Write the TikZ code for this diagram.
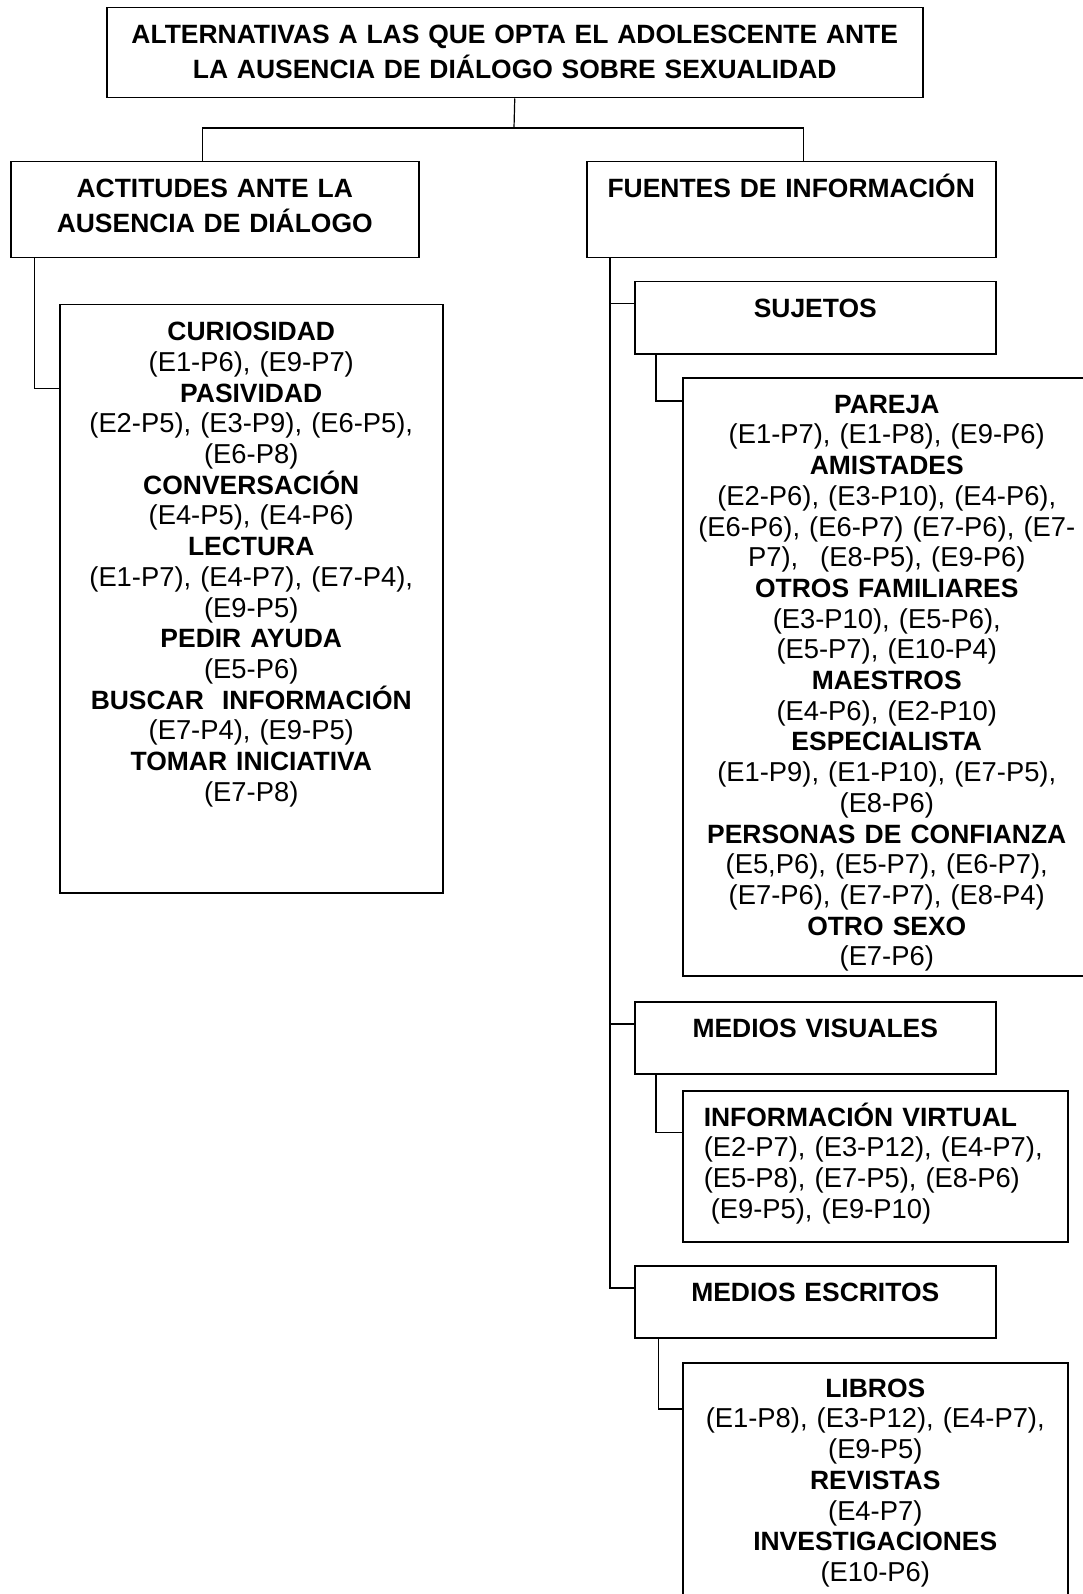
\documentclass[tikz,border=0pt]{standalone}
\usepackage{fontspec}
\setmainfont{Liberation Sans}
\newcommand{\etiq}[1]{{\fontsize{26.45}{30.7}\selectfont\bfseries #1}}
\tikzset{
  caja/.style={draw, line width=1.5pt, inner sep=0pt, anchor=north west,
    align=center, text height=35.5pt, font=\fontsize{27.35}{30.7}\selectfont},
  encabezado/.style={caja, font=\fontsize{26.45}{35.5}\selectfont\bfseries},
  conector/.style={line width=1.2pt},
}
\begin{document}
\begin{tikzpicture}[x=1pt,y=-1pt]
  \clip (0,0) rectangle (1083,1594);
  % primer nivel
  \node[encabezado, text width=816pt, text height=36pt, text depth=54pt,
    font=\fontsize{26.45}{34.5}\selectfont\bfseries] (titulo) at (106,7)
    {ALTERNATIVAS A LAS QUE OPTA EL ADOLESCENTE ANTE\\
     LA AUSENCIA DE DIÁLOGO SOBRE SEXUALIDAD};
  \node[encabezado, text width=408pt, text depth=60.5pt] (actitudes) at (10,161)
    {ACTITUDES ANTE LA\\AUSENCIA DE DIÁLOGO};
  \node[encabezado, text width=409pt, text depth=60.5pt] (fuentes) at (586,161)
    {FUENTES DE INFORMACIÓN};
  % actitudes
  \node[caja, text width=383pt, text height=36pt, text depth=552pt] (actdet) at (59,304)
    {\etiq{CURIOSIDAD}\\(E1-P6), (E9-P7)\\
     \etiq{PASIVIDAD}\\(E2-P5), (E3-P9), (E6-P5),\\(E6-P8)\\
     \etiq{CONVERSACIÓN}\\(E4-P5), (E4-P6)\\
     \etiq{LECTURA}\\(E1-P7), (E4-P7), (E7-P4),\\(E9-P5)\\
     \etiq{PEDIR AYUDA}\\(E5-P6)\\
     \etiq{BUSCAR\ \ INFORMACIÓN}\\(E7-P4), (E9-P5)\\
     \etiq{TOMAR INICIATIVA}\\(E7-P8)};
  % fuentes
  \node[encabezado, text width=361pt, text depth=36.5pt] (sujetos) at (634,281) {SUJETOS};
  \node[caja, text width=408pt, text depth=562.5pt] (sujdet) at (682,377)
    {\etiq{PAREJA}\\(E1-P7), (E1-P8), (E9-P6)\\
     \etiq{AMISTADES}\\(E2-P6), (E3-P10), (E4-P6),\\
     (E6-P6), (E6-P7) (E7-P6), (E7-\\P7),\hspace{22pt}(E8-P5), (E9-P6)\\
     \etiq{OTROS FAMILIARES}\\(E3-P10), (E5-P6),\\(E5-P7), (E10-P4)\\
     \etiq{MAESTROS}\\(E4-P6), (E2-P10)\\
     \etiq{ESPECIALISTA}\\(E1-P9), (E1-P10), (E7-P5),\\(E8-P6)\\
     \etiq{PERSONAS DE CONFIANZA}\\(E5,P6), (E5-P7), (E6-P7),\\(E7-P6), (E7-P7), (E8-P4)\\
     \etiq{OTRO SEXO}\\(E7-P6)};
  \node[encabezado, text width=361pt, text depth=36.5pt] (visuales) at (634,1001) {MEDIOS VISUALES};
  \node[caja, align=left, inner xsep=21pt, text width=343pt, text depth=115.5pt] (virdet) at (682,1090)
    {\etiq{INFORMACIÓN VIRTUAL}\\(E2-P7), (E3-P12), (E4-P7),\\
     (E5-P8), (E7-P5), (E8-P6)\\\hspace*{7pt}(E9-P5), (E9-P10)};
  \node[encabezado, text width=361pt, text depth=36.5pt] (escritos) at (634,1265) {MEDIOS ESCRITOS};
  \node[caja, text width=385pt, text height=34.5pt, text depth=215pt] (libdet) at (682,1362)
    {\etiq{LIBROS}\\(E1-P8), (E3-P12), (E4-P7),\\(E9-P5)\\
     \etiq{REVISTAS}\\(E4-P7)\\
     \etiq{INVESTIGACIONES}\\(E10-P6)};
  % conectores
  \coordinate (bifurc) at (514,128);
  \draw[conector] (titulo.south) -- (bifurc);
  \draw[conector] ([xshift=-12pt]actitudes.north) |- (bifurc) -| ([xshift=12pt]fuentes.north);
  \draw[conector] ([xshift=24.6pt]actitudes.south west) |- ([yshift=-84.5pt]actdet.north west);
  \draw[conector] ([xshift=24pt]fuentes.south west) |- ([yshift=-22.5pt]sujetos.north west);
  \draw[conector] ([xshift=24pt]fuentes.south west) |- ([yshift=-23pt]visuales.north west);
  \draw[conector] ([xshift=24pt]fuentes.south west) |- ([yshift=-23pt]escritos.north west);
  \draw[conector] ([xshift=22pt]sujetos.south west) |- ([yshift=-24pt]sujdet.north west);
  \draw[conector] ([xshift=22pt]visuales.south west) |- ([yshift=-42.7pt]virdet.north west);
  \draw[conector] ([xshift=24.7pt]escritos.south west) |- ([yshift=-47pt]libdet.north west);
\end{tikzpicture}
\end{document}
